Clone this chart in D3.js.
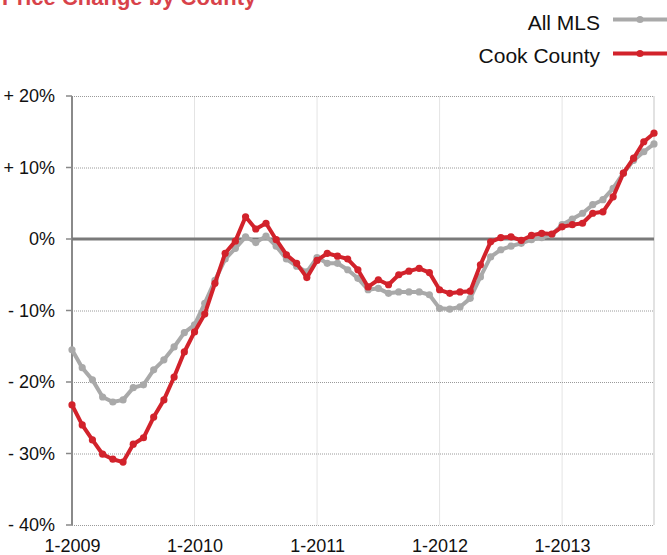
<!DOCTYPE html>
<html>
<head>
<meta charset="utf-8">
<script src="https://cdn.jsdelivr.net/npm/d3@7"></script>
<style>
  body { margin: 0; background: #fff; }
  text { font-family: "Liberation Sans", Arial, sans-serif; }
</style>
</head>
<body>
<div id="chart"></div>
<script>
// monthly values, Jan 2009 .. Oct 2013 (58 months)
var yearTicks = ["1-2009", "1-2010", "1-2011", "1-2012", "1-2013"];
var yTicks = [20, 10, 0, -10, -20, -30, -40];

var allMls = [
  -15.5, -18.0, -19.7, -22.1, -22.8, -22.5, -20.8, -20.4, -18.3, -16.9, -15.1, -13.1,
  -12.0, -9.0, -5.8, -2.8, -1.3, 0.3, -0.5, 0.4, -1.0, -2.8, -3.8, -4.6,
  -2.6, -3.4, -3.4, -4.3, -5.5, -7.1, -6.9, -7.6, -7.4, -7.4, -7.4, -7.8,
  -9.7, -9.8, -9.5, -8.3, -5.3, -2.5, -1.5, -1.0, -0.6, -0.1, 0.2, 0.6,
  2.0, 2.8, 3.6, 4.8, 5.5, 7.1, 9.2, 11.0, 12.2, 13.3
];
var cookCounty = [
  -23.2, -26.0, -28.1, -30.1, -30.8, -31.2, -28.7, -27.8, -24.9, -22.5, -19.3, -15.8,
  -13.0, -10.5, -6.2, -2.0, -0.3, 3.1, 1.4, 2.2, -0.1, -2.2, -3.4, -5.4,
  -3.0, -2.0, -2.4, -2.8, -4.3, -6.7, -5.7, -6.4, -5.0, -4.5, -4.1, -4.7,
  -7.1, -7.6, -7.4, -7.3, -3.6, -0.4, 0.2, 0.3, -0.2, 0.5, 0.8, 0.7,
  1.7, 2.0, 2.2, 3.6, 3.8, 5.9, 9.2, 11.3, 13.6, 14.8
];

var width = 667, height = 555;
var red = "#d2222b", grey = "#a9a9a9";

var svg = d3.select("#chart").append("svg")
    .attr("width", width)
    .attr("height", height);

// title, cut off at the top of the picture
svg.append("text")
    .attr("x", 2).attr("y", 5)
    .attr("fill", red)
    .attr("font-size", 22)
    .attr("font-weight", "bold")
    .attr("opacity", 0.85)
    .text("Price Change by County");

var x = d3.scaleLinear().domain([0, allMls.length - 1]).range([72, 654]);
var y = d3.scaleLinear().domain([-40, 20]).range([525, 96]);

// vertical year gridlines
svg.append("g")
    .selectAll("line")
    .data(yearTicks.map((d, i) => i * 12).filter(d => d > 0))
    .enter().append("line")
    .attr("x1", d => x(d)).attr("x2", d => x(d))
    .attr("y1", y(20)).attr("y2", y(-40))
    .attr("stroke", "#e4e4e4").attr("stroke-width", 1);

// right border
svg.append("line")
    .attr("x1", x.range()[1]).attr("x2", x.range()[1])
    .attr("y1", y(20)).attr("y2", y(-40))
    .attr("stroke", "#d8d8d8").attr("stroke-width", 1.5);

// horizontal dotted gridlines + y labels
var yAxis = d3.axisLeft(y)
    .tickValues(yTicks)
    .tickSize(-(x.range()[1] - x.range()[0]))
    .tickPadding(17)
    .tickFormat(d => d > 0 ? "+ " + d + "%" : d < 0 ? "- " + (-d) + "%" : "0%");

var gy = svg.append("g")
    .attr("transform", "translate(" + x.range()[0] + ",0)")
    .call(yAxis);
gy.select(".domain").remove();
gy.selectAll(".tick line")
    .attr("stroke", "#9a9a9a")
    .attr("stroke-dasharray", "1,1");
gy.selectAll(".tick text")
    .attr("font-size", 18)
    .attr("fill", "#111")
    .attr("font-family", "Liberation Sans, Arial, sans-serif");
// small outer ticks
svg.append("g").selectAll("line").data(yTicks).enter().append("line")
    .attr("x1", 66).attr("x2", 72)
    .attr("y1", d => y(d)).attr("y2", d => y(d))
    .attr("stroke", "#888").attr("stroke-width", 1.5);

// left axis line
svg.append("line")
    .attr("x1", 72).attr("x2", 72)
    .attr("y1", y(20)).attr("y2", y(-40))
    .attr("stroke", "#8a8a8a").attr("stroke-width", 2);

// zero line
svg.append("line")
    .attr("x1", 72).attr("x2", x.range()[1])
    .attr("y1", y(0)).attr("y2", y(0))
    .attr("stroke", "#7a7a7a").attr("stroke-width", 3);

// x labels
var xAxis = d3.axisBottom(x)
    .tickValues(yearTicks.map((d, i) => i * 12))
    .tickSize(0)
    .tickPadding(14)
    .tickFormat((d, i) => yearTicks[i]);
var gx = svg.append("g")
    .attr("transform", "translate(0," + y(-40) + ")")
    .call(xAxis);
gx.select(".domain").remove();
gx.selectAll(".tick text")
    .attr("font-size", 18)
    .attr("fill", "#111")
    .attr("font-family", "Liberation Sans, Arial, sans-serif");

var line = d3.line().x((d, i) => x(i)).y(d => y(d));

function drawSeries(data, color) {
    svg.append("path")
        .datum(data)
        .attr("d", line)
        .attr("fill", "none")
        .attr("stroke", color)
        .attr("stroke-width", 4)
        .attr("stroke-linejoin", "round");
    svg.append("g").selectAll("circle")
        .data(data).enter().append("circle")
        .attr("cx", (d, i) => x(i))
        .attr("cy", d => y(d))
        .attr("r", 3.6)
        .attr("fill", color);
}
drawSeries(allMls, grey);
drawSeries(cookCounty, red);

// legend
var legend = [
  { name: "All MLS", color: grey, ly: 19.5, ty: 30 },
  { name: "Cook County", color: red, ly: 53.5, ty: 63 }
];
var lg = svg.append("g").selectAll("g").data(legend).enter().append("g");
lg.append("text")
    .attr("x", 600).attr("y", d => d.ty)
    .attr("text-anchor", "end")
    .attr("font-size", 21)
    .attr("fill", "#111")
    .text(d => d.name);
lg.append("line")
    .attr("x1", 613).attr("x2", 672)
    .attr("y1", d => d.ly).attr("y2", d => d.ly)
    .attr("stroke", d => d.color).attr("stroke-width", 4);
lg.append("circle")
    .attr("cx", 640).attr("cy", d => d.ly)
    .attr("r", 3.6)
    .attr("fill", d => d.color);
</script>
</body>
</html>
